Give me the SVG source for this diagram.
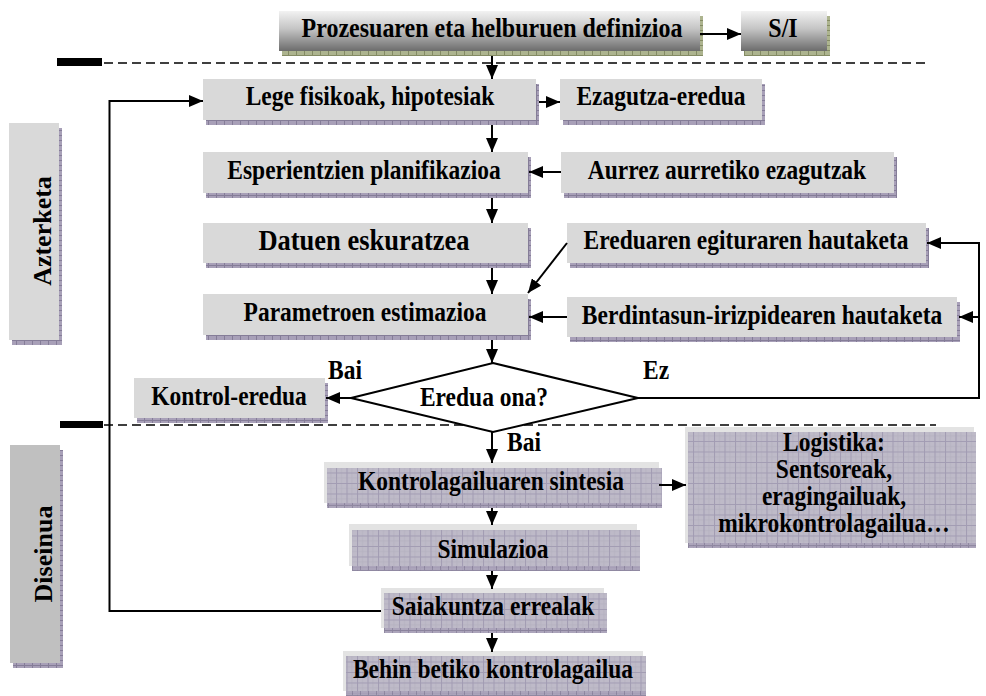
<svg xmlns="http://www.w3.org/2000/svg" width="986" height="696" viewBox="0 0 986 696">
<style>
text{font-family:"Liberation Serif","Times New Roman",serif;font-weight:bold;fill:#000;font-size:23.5px}
.c{text-anchor:middle}
.box{fill:#d9d9d9}
.sh{fill:url(#shp)}
.lt{fill:#e3e3e3}
.gr{fill:url(#grid)}
.st{fill:url(#shp)}
.ar{fill:none;stroke:#000;stroke-width:2;marker-end:url(#ah)}
.dash{fill:none;stroke:#000;stroke-width:1.6;stroke-dasharray:9 5}
</style>
<defs>
<marker id="ah" viewBox="0 0 14 12" refX="14" refY="6" markerWidth="14" markerHeight="12" markerUnits="userSpaceOnUse" orient="auto"><path d="M0,0 L14,6 L0,12 z" fill="#000"/></marker>
<pattern id="shp" width="8" height="5" patternUnits="userSpaceOnUse"><rect width="8" height="5" fill="#a8a0b8"/><path d="M0,0.5H8M0.5,0V5" stroke="#857d98" stroke-width="1"/></pattern>
<pattern id="shg" width="8" height="5" patternUnits="userSpaceOnUse"><rect width="8" height="5" fill="#adb48f"/><path d="M0,0.5H8M0.5,0V5" stroke="#848b64" stroke-width="1"/></pattern>
<pattern id="grid" width="10.5" height="10.5" patternUnits="userSpaceOnUse"><rect width="10.5" height="10.5" fill="#bebac8"/><path d="M0,5.5H10.5M5.5,0V10.5" stroke="#b3afbf" stroke-width="0.7"/><path d="M0,0.5H10.5M0.5,0V10.5" stroke="#a29cb3" stroke-width="1"/></pattern>
<linearGradient id="tg" x1="0" y1="0" x2="0" y2="1"><stop offset="0" stop-color="#f2f2f2"/><stop offset="0.45" stop-color="#c4c4c4"/><stop offset="1" stop-color="#6c6c6c"/></linearGradient>
</defs>

<g id="lanes">
<rect x="57" y="58" width="45" height="8" fill="#000"/>
<rect x="60" y="421" width="43" height="7" fill="#000"/>
<path class="dash" d="M104,63 H930"/>
<path class="dash" d="M104,425 H936"/>
</g>

<g id="azterketa">
<rect x="12" y="128" width="50" height="217" class="sh"/>
<rect x="9" y="123" width="50" height="217" class="box"/>
<text class="c" style="font-size:26px" transform="translate(51,231) rotate(-90)">Azterketa</text>
</g>
<g id="diseinua">
<rect x="13" y="450" width="50" height="218" class="sh"/>
<rect x="10" y="445" width="50" height="218" fill="#c0c0c0"/>
<text class="c" style="font-size:26px" transform="translate(52,554) rotate(-90)">Diseinua</text>
</g>

<g id="n-prozesua">
<rect x="282" y="16" width="421" height="40" fill="url(#shg)"/>
<rect x="279" y="11" width="421" height="40" fill="url(#tg)"/>
<text class="c" transform="matrix(1,0,0,1.12,492,37)" style="font-size:24px">Prozesuaren eta helburuen definizioa</text>
</g>
<g id="n-si">
<rect x="744" y="16" width="86" height="40" fill="url(#shg)"/>
<rect x="741" y="11" width="86" height="40" fill="url(#tg)"/>
<text class="c" transform="matrix(1,0,0,1.12,783,37)" style="font-size:24px">S/I</text>
</g>

<g id="n-lege">
<rect x="206" y="84" width="333" height="41" class="sh"/>
<rect x="203" y="79" width="333" height="41" class="box"/>
<text class="c" transform="matrix(1,0,0,1.12,370,105)">Lege fisikoak, hipotesiak</text>
</g>
<g id="n-ezagutza">
<rect x="563" y="84" width="202" height="41" class="sh"/>
<rect x="560" y="79" width="202" height="41" class="box"/>
<text class="c" transform="matrix(1,0,0,1.12,661,105)">Ezagutza-eredua</text>
</g>
<g id="n-esperientzien">
<rect x="206" y="157" width="325" height="41" class="sh"/>
<rect x="203" y="152" width="325" height="41" class="box"/>
<text class="c" transform="matrix(1,0,0,1.12,364,179)">Esperientzien planifikazioa</text>
</g>
<g id="n-aurrez">
<rect x="564" y="157" width="333" height="41" class="sh"/>
<rect x="561" y="152" width="333" height="41" class="box"/>
<text class="c" transform="matrix(1,0,0,1.12,727,179)">Aurrez aurretiko ezagutzak</text>
</g>
<g id="n-datuen">
<rect x="206" y="228" width="325" height="40" class="sh"/>
<rect x="203" y="223" width="325" height="40" class="box"/>
<text class="c" transform="matrix(1,0,0,1.12,364,250)" style="font-size:26.5px">Datuen eskuratzea</text>
</g>
<g id="n-ereduaren">
<rect x="570" y="228" width="359" height="40" class="sh"/>
<rect x="567" y="223" width="359" height="40" class="box"/>
<text class="c" transform="matrix(1,0,0,1.12,746,249)">Ereduaren egituraren hautaketa</text>
</g>
<g id="n-parametroen">
<rect x="206" y="299" width="325" height="41" class="sh"/>
<rect x="203" y="294" width="325" height="41" class="box"/>
<text class="c" transform="matrix(1,0,0,1.12,365,321)">Parametroen estimazioa</text>
</g>
<g id="n-berdintasun">
<rect x="570" y="302" width="390" height="40" class="sh"/>
<rect x="567" y="297" width="390" height="40" class="box"/>
<text class="c" transform="matrix(1,0,0,1.12,762,324)">Berdintasun-irizpidearen hautaketa</text>
</g>
<g id="n-kontrol-eredua">
<rect x="137" y="383" width="191" height="40" class="sh"/>
<rect x="134" y="378" width="191" height="40" class="box"/>
<text class="c" transform="matrix(1,0,0,1.12,229,405)">Kontrol-eredua</text>
</g>
<g id="n-eredua-ona">
<polygon points="493,363 638,398 493,432 351,398" fill="#fff" stroke="#000" stroke-width="2"/>
<text class="c" transform="matrix(1,0,0,1.12,484,406)">Eredua ona?</text>
</g>

<g id="n-kontrolagailuaren">
<rect x="324" y="462" width="335" height="41" class="lt"/>
<rect x="327" y="468" width="335" height="40" class="gr"/>
<rect x="327" y="503" width="335" height="5" class="st" opacity="0.8"/>
<text class="c" transform="matrix(1,0,0,1.12,491,490)">Kontrolagailuaren sintesia</text>
</g>
<g id="n-logistika">
<rect x="685" y="427" width="289" height="116" class="lt"/>
<rect x="688" y="432" width="288" height="116" class="gr"/>
<rect x="688" y="543" width="288" height="5" class="st" opacity="0.8"/>
<text class="c" transform="matrix(1,0,0,1.12,834,451)">Logistika:</text>
<text class="c" transform="matrix(1,0,0,1.12,834,478)">Sentsoreak,</text>
<text class="c" transform="matrix(1,0,0,1.12,834,505)">eragingailuak,</text>
<text class="c" transform="matrix(1,0,0,1.12,834,532)">mikrokontrolagailua…</text>
</g>
<g id="n-simulazioa">
<rect x="349" y="524" width="288" height="42" class="lt"/>
<rect x="352" y="530" width="288" height="41" class="gr"/>
<rect x="352" y="566" width="288" height="5" class="st" opacity="0.8"/>
<text class="c" transform="matrix(1,0,0,1.12,493,558)">Simulazioa</text>
</g>
<g id="n-saiakuntza">
<rect x="381" y="588" width="223" height="40" class="lt"/>
<rect x="384" y="593" width="223" height="40" class="gr"/>
<rect x="384" y="628" width="223" height="5" class="st" opacity="0.8"/>
<text class="c" transform="matrix(1,0,0,1.12,493,615)">Saiakuntza errealak</text>
</g>
<g id="n-behin">
<rect x="343" y="651" width="300" height="40" class="lt"/>
<rect x="346" y="656" width="300" height="40" class="gr"/>
<rect x="346" y="691" width="300" height="5" class="st" opacity="0.8"/>
<text class="c" transform="matrix(1,0,0,1.12,493,678)">Behin betiko kontrolagailua</text>
</g>

<g id="connectors">
<path class="ar" d="M492,56 V79"/>
<path class="ar" d="M700,34 H741"/>
<path class="ar" d="M539,102 H560"/>
<path class="ar" d="M492,125 V152"/>
<path class="ar" d="M561,172 H529"/>
<path class="ar" d="M492,198 V223"/>
<path class="ar" d="M492,268 V294"/>
<path class="ar" d="M567,243 L528,293"/>
<path class="ar" d="M567,317 H529"/>
<path class="ar" d="M492,340 V363"/>
<path class="ar" d="M351,398 H326"/>
<path class="ar" d="M638,398 H979 V243 H927"/>
<path class="ar" d="M979,317 H959"/>
<path class="ar" d="M492,432 V463"/>
<path class="ar" d="M659,485 H686"/>
<path class="ar" d="M492,508 V525"/>
<path class="ar" d="M492,571 V589"/>
<path class="ar" d="M492,633 V652"/>
<path class="ar" d="M381,611 H109.5 V101 H203"/>
<text transform="matrix(1,0,0,1.12,328,379)">Bai</text>
<text transform="matrix(1,0,0,1.12,643,379)">Ez</text>
<text transform="matrix(1,0,0,1.12,507,451)">Bai</text>
</g>
</svg>
